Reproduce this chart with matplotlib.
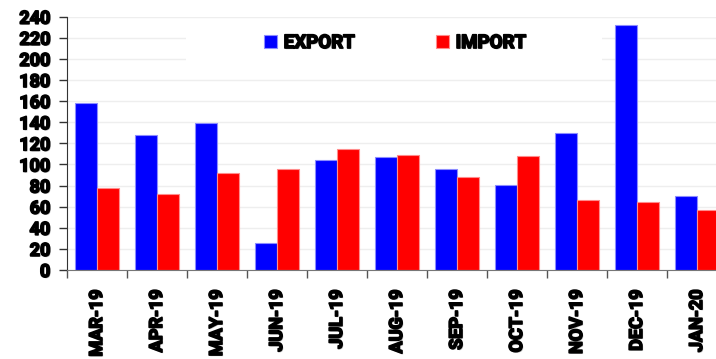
import numpy as np
import matplotlib.pyplot as plt
import matplotlib.patheffects as pe
from matplotlib.patches import Rectangle

# Monthly trade values
months = ['MAR-19', 'APR-19', 'MAY-19', 'JUN-19', 'JUL-19', 'AUG-19',
          'SEP-19', 'OCT-19', 'NOV-19', 'DEC-19', 'JAN-20']
export_vals = [158, 128, 139, 26, 104, 107, 96, 81, 130, 232, 70]
import_vals = [78, 72, 92, 96, 115, 109, 88, 108, 66, 64, 57]

plt.rcParams['font.family'] = ['Roboto', 'DejaVu Sans']

# heavy lettering with a soft grey drop shadow
heavy = [pe.SimplePatchShadow(offset=(0.8, -0.8), shadow_rgbFace='#777777', alpha=0.5),
         pe.Stroke(linewidth=1.2, foreground='black'), pe.Normal()]

fig = plt.figure(figsize=(7.16, 3.59), dpi=100)
ax = fig.add_axes([67 / 716, 89 / 359, 660 / 716, 253.3 / 359])

x = np.arange(len(months))
width = 0.36
ax.bar(x - width / 2, export_vals, width, color='#0000ff', edgecolor='#8c8cff',
       linewidth=0.8, label='EXPORT', zorder=2)
ax.bar(x + width / 2, import_vals, width, color='#ff0000', edgecolor='#ff8c8c',
       linewidth=0.8, label='IMPORT', zorder=2)

ax.set_xlim(-0.5, len(months) - 0.5)
ax.set_ylim(0, 240)
ax.set_yticks(np.arange(0, 241, 20))
ax.set_xticks(x)
ax.set_xticklabels(months, rotation=90)
# category boundary ticks on the x axis
ax.set_xticks(np.arange(-0.5, len(months), 1), minor=True)
ax.tick_params(axis='x', which='major', length=0, pad=14)
ax.tick_params(axis='x', which='minor', length=6, width=1, color='#555555')
ax.tick_params(axis='y', length=6, width=1, color='#333333', pad=6)

for lbl in ax.get_yticklabels():
    lbl.set_fontsize(13)
    lbl.set_fontweight('bold')
    lbl.set_path_effects(heavy)
for lbl in ax.get_xticklabels():
    lbl.set_fontsize(13)
    lbl.set_fontweight('bold')
    lbl.set_path_effects(heavy)

ax.grid(axis='y', color='#eeeeee', linewidth=1)
ax.set_axisbelow(True)
for side in ['top', 'right']:
    ax.spines[side].set_visible(False)
ax.spines['left'].set_color('#333333')
ax.spines['bottom'].set_color('#777777')

# white panel behind the legend
ax.add_patch(Rectangle((0.18, 0.78), 0.63, 0.17, transform=ax.transAxes,
                       facecolor='white', edgecolor='none', zorder=1))
leg = ax.legend(loc='center', bbox_to_anchor=(0.497, 0.896), ncol=2, frameon=False,
                handlelength=0.72, handleheight=0.72, handletextpad=0.35,
                columnspacing=4.3, prop={'weight': 'bold', 'size': 13.5})
for txt in leg.get_texts():
    txt.set_path_effects(heavy)

fig.savefig('out.png', dpi=100)
